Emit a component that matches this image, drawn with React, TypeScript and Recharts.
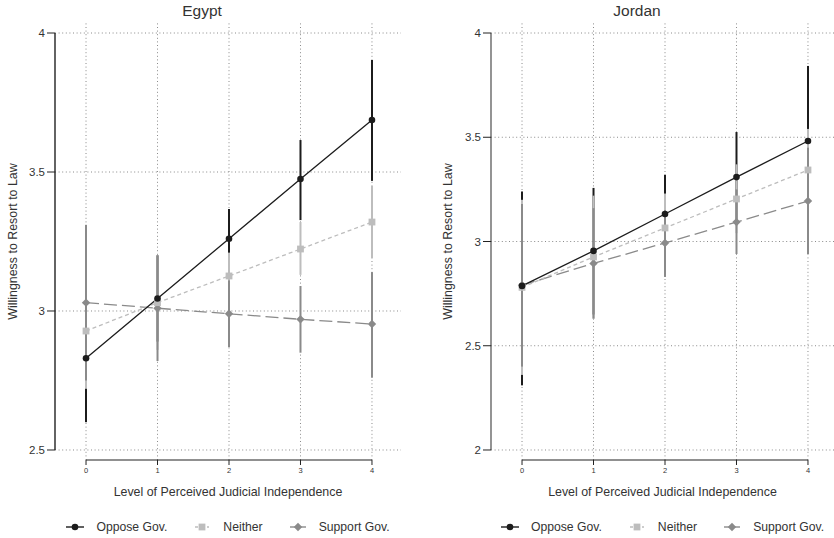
import React from 'react';
import { LineChart, Line, XAxis, YAxis, ErrorBar, ReferenceLine, Legend } from 'recharts';

const levels = [0, 1, 2, 3, 4];
const xTicks = [0, 1, 2, 3, 4];

const egyptOppose = [2.83, 3.045, 3.26, 3.475, 3.687];
const egyptOpposeLo = [2.6, 2.89, 3.153, 3.327, 3.468];
const egyptOpposeHi = [3.06, 3.2, 3.367, 3.615, 3.903];
const egyptNeither = [2.928, 3.03, 3.126, 3.223, 3.32];
const egyptNeitherLo = [2.72, 2.86, 3.04, 3.13, 3.19];
const egyptNeitherHi = [3.14, 3.2, 3.21, 3.32, 3.45];
const egyptSupport = [3.03, 3.01, 2.99, 2.97, 2.953];
const egyptSupportLo = [2.75, 2.82, 2.87, 2.85, 2.76];
const egyptSupportHi = [3.31, 3.2, 3.11, 3.09, 3.14];
const egyptYTicks = [2.5, 3, 3.5, 4];

const jordanOppose = [2.787, 2.955, 3.132, 3.309, 3.482];
const jordanOpposeLo = [2.31, 2.65, 2.94, 3.09, 3.12];
const jordanOpposeHi = [3.24, 3.257, 3.32, 3.525, 3.842];
const jordanNeither = [2.78, 2.926, 3.065, 3.204, 3.343];
const jordanNeitherLo = [2.36, 2.63, 2.9, 3.04, 3.15];
const jordanNeitherHi = [3.2, 3.22, 3.23, 3.37, 3.54];
const jordanSupport = [2.79, 2.895, 2.993, 3.093, 3.194];
const jordanSupportLo = [2.4, 2.63, 2.83, 2.94, 2.94];
const jordanSupportHi = [3.18, 3.16, 3.15, 3.25, 3.45];
const jordanYTicks = [2, 2.5, 3, 3.5, 4];

const seriesNames = ['Oppose Gov.', 'Neither', 'Support Gov.'];
const xLabel = 'Level of Perceived Judicial Independence';
const yLabel = 'Willingness to Resort to Law';

const C_OPP = '#1c1c1c';
const C_NEI = '#bdbdbd';
const C_SUP = '#8a8a8a';
const FONT = '"Liberation Sans", Arial, Helvetica, sans-serif';

function build(o: number[], oLo: number[], oHi: number[], n: number[], nLo: number[], nHi: number[], s: number[], sLo: number[], sHi: number[]) {
  return levels.map((x, i) => ({
    x,
    opp: o[i],
    oppErr: [o[i] - oLo[i], oHi[i] - o[i]],
    nei: n[i],
    neiErr: [n[i] - nLo[i], nHi[i] - n[i]],
    sup: s[i],
    supErr: [s[i] - sLo[i], sHi[i] - s[i]],
  }));
}

const egyptData = build(egyptOppose, egyptOpposeLo, egyptOpposeHi, egyptNeither, egyptNeitherLo, egyptNeitherHi, egyptSupport, egyptSupportLo, egyptSupportHi);
const jordanData = build(jordanOppose, jordanOpposeLo, jordanOpposeHi, jordanNeither, jordanNeitherLo, jordanNeitherHi, jordanSupport, jordanSupportLo, jordanSupportHi);

const circleDot = (p: any) => <circle key={`c${p.index}`} cx={p.cx} cy={p.cy} r={3.3} fill={C_OPP} stroke="none" />;
const squareDot = (p: any) => <rect key={`s${p.index}`} x={p.cx - 3.4} y={p.cy - 3.4} width={6.8} height={6.8} fill={C_NEI} stroke="none" />;
const diamondDot = (p: any) => (
  <polygon key={`d${p.index}`} points={`${p.cx},${p.cy - 4.2} ${p.cx + 4.2},${p.cy} ${p.cx},${p.cy + 4.2} ${p.cx - 4.2},${p.cy}`} fill={C_SUP} stroke="none" />
);

function LegendSymbol({ kind }: { kind: number }) {
  return (
    <svg width={18} height={12} style={{ display: 'block' }}>
      {kind === 0 && (
        <g>
          <line x1={0} y1={6} x2={18} y2={6} stroke={C_OPP} strokeWidth={1.4} />
          <circle cx={9} cy={6} r={3.3} fill={C_OPP} />
        </g>
      )}
      {kind === 1 && (
        <g>
          <line x1={2} y1={6} x2={16} y2={6} stroke={C_NEI} strokeWidth={1.4} strokeDasharray="3 3" />
          <rect x={5.6} y={2.6} width={6.8} height={6.8} fill={C_NEI} />
        </g>
      )}
      {kind === 2 && (
        <g>
          <line x1={1} y1={6} x2={17} y2={6} stroke={C_SUP} strokeWidth={1.4} />
          <polygon points="9,1.8 13.2,6 9,10.2 4.8,6" fill={C_SUP} />
        </g>
      )}
    </svg>
  );
}

function LegendContent() {
  return (
    <div style={{ display: 'flex', justifyContent: 'center', alignItems: 'center', height: 20, fontFamily: FONT, fontSize: 12.2, color: '#333' }}>
      {seriesNames.map((name, i) => (
        <div key={name} style={{ display: 'flex', alignItems: 'center', marginLeft: i === 0 ? 0 : 26 }}>
          <LegendSymbol kind={i} />
          <span style={{ marginLeft: 12, whiteSpace: 'nowrap' }}>{name}</span>
        </div>
      ))}
    </div>
  );
}

type PanelProps = {
  title: string;
  data: any[];
  yDomain: [number, number];
  yTicks: number[];
  yAxisWidth: number;
  marginRight: number;
  xDomain: [number, number];
  axisColor: string;
  titleX: number;
  yLabelX: number;
  left: number;
};

const GRID = { stroke: '#8a8a8a', strokeDasharray: '1 2.6', strokeWidth: 1 };

function Panel(props: PanelProps) {
  const { title, data, yDomain, yTicks, yAxisWidth, marginRight, xDomain, axisColor, titleX, yLabelX, left } = props;
  const W = 417;
  const H = 538;
  const plotLeft = yAxisWidth;
  const plotWidth = W - yAxisWidth - marginRight;
  return (
    <div style={{ position: 'absolute', left, top: 0, width: W, height: H }}>
      <div style={{ position: 'absolute', left: titleX - 60, width: 120, top: 2, height: 18, lineHeight: '18px', textAlign: 'center', fontFamily: FONT, fontSize: 15.5, color: '#333' }}>
        {title}
      </div>
      <LineChart width={W} height={H} data={data} margin={{ top: 23, right: marginRight, bottom: 20, left: 0 }}>
        <XAxis
          type="number"
          dataKey="x"
          domain={xDomain}
          ticks={xTicks}
          allowDataOverflow
          axisLine={false}
          tickLine={{ stroke: '#222', strokeWidth: 1 }}
          tickSize={5}
          tickMargin={3}
          tick={{ fontSize: 7.5, fill: '#333', fontFamily: FONT }}
          height={38}
          label={{ value: xLabel, position: 'insideBottom', offset: 2, fontSize: 12.4, fill: '#333', fontFamily: FONT }}
        />
        <YAxis
          type="number"
          domain={yDomain}
          ticks={yTicks}
          allowDataOverflow
          axisLine={false}
          tickLine={{ stroke: '#222', strokeWidth: 1 }}
          tickSize={8}
          tickMargin={2}
          width={yAxisWidth}
          tick={{ fontSize: 11.5, fill: '#333', fontFamily: FONT }}
          label={{ value: yLabel, angle: -90, position: 'insideLeft', offset: yLabelX, fontSize: 12.4, fill: '#333', fontFamily: FONT, style: { textAnchor: 'middle' } }}
        />
        {yTicks.map((t) => (
          <ReferenceLine key={`gy${t}`} y={t} {...GRID} />
        ))}
        {xTicks.map((t) => (
          <ReferenceLine key={`gx${t}`} x={t} {...GRID} />
        ))}
        <ReferenceLine ifOverflow="visible" segment={[{ x: xDomain[0], y: yTicks[0] }, { x: xDomain[0], y: yTicks[yTicks.length - 1] }]} stroke={axisColor} strokeWidth={1.4} />
        <ReferenceLine ifOverflow="visible" segment={[{ x: xTicks[0], y: yDomain[0] }, { x: xTicks[xTicks.length - 1], y: yDomain[0] }]} stroke="#222" strokeWidth={1.2} />
        <Line dataKey="opp" stroke="transparent" dot={false} activeDot={false} legendType="none" isAnimationActive={false}>
          <ErrorBar dataKey="oppErr" width={0} stroke={C_OPP} strokeWidth={2} direction="y" isAnimationActive={false} />
        </Line>
        <Line dataKey="nei" stroke="transparent" dot={false} activeDot={false} legendType="none" isAnimationActive={false}>
          <ErrorBar dataKey="neiErr" width={0} stroke={C_NEI} strokeWidth={2} direction="y" isAnimationActive={false} />
        </Line>
        <Line dataKey="sup" stroke="transparent" dot={false} activeDot={false} legendType="none" isAnimationActive={false}>
          <ErrorBar dataKey="supErr" width={0} stroke={C_SUP} strokeWidth={2} direction="y" isAnimationActive={false} />
        </Line>
        <Line dataKey="sup" name={seriesNames[2]} stroke={C_SUP} strokeWidth={1.3} strokeDasharray="13 5" dot={diamondDot} activeDot={false} isAnimationActive={false} />
        <Line dataKey="nei" name={seriesNames[1]} stroke={C_NEI} strokeWidth={1.3} strokeDasharray="4 3" dot={squareDot} activeDot={false} isAnimationActive={false} />
        <Line dataKey="opp" name={seriesNames[0]} stroke={C_OPP} strokeWidth={1.3} dot={circleDot} activeDot={false} isAnimationActive={false} />
        <Legend
          verticalAlign="bottom"
          content={() => <LegendContent />}
          wrapperStyle={{ position: 'absolute', top: 517, bottom: 'auto', left: plotLeft, width: plotWidth, height: 20 }}
        />
      </LineChart>
    </div>
  );
}

export default function App() {
  return (
    <div style={{ position: 'absolute', left: 0, top: 0, width: 834, height: 538, background: '#fff', fontFamily: FONT }}>
      <Panel
        title="Egypt"
        data={egyptData}
        yDomain={[2.464, 4.036]}
        yTicks={egyptYTicks}
        yAxisWidth={55}
        marginRight={16}
        xDomain={[-0.434, 4.406]}
        axisColor="#222"
        titleX={202}
        yLabelX={12.5}
        left={0}
      />
      <Panel
        title="Jordan"
        data={jordanData}
        yDomain={[1.952, 4.048]}
        yTicks={jordanYTicks}
        yAxisWidth={74}
        marginRight={0}
        xDomain={[-0.434, 4.364]}
        axisColor="#666"
        titleX={220}
        yLabelX={31}
        left={417}
      />
    </div>
  );
}
